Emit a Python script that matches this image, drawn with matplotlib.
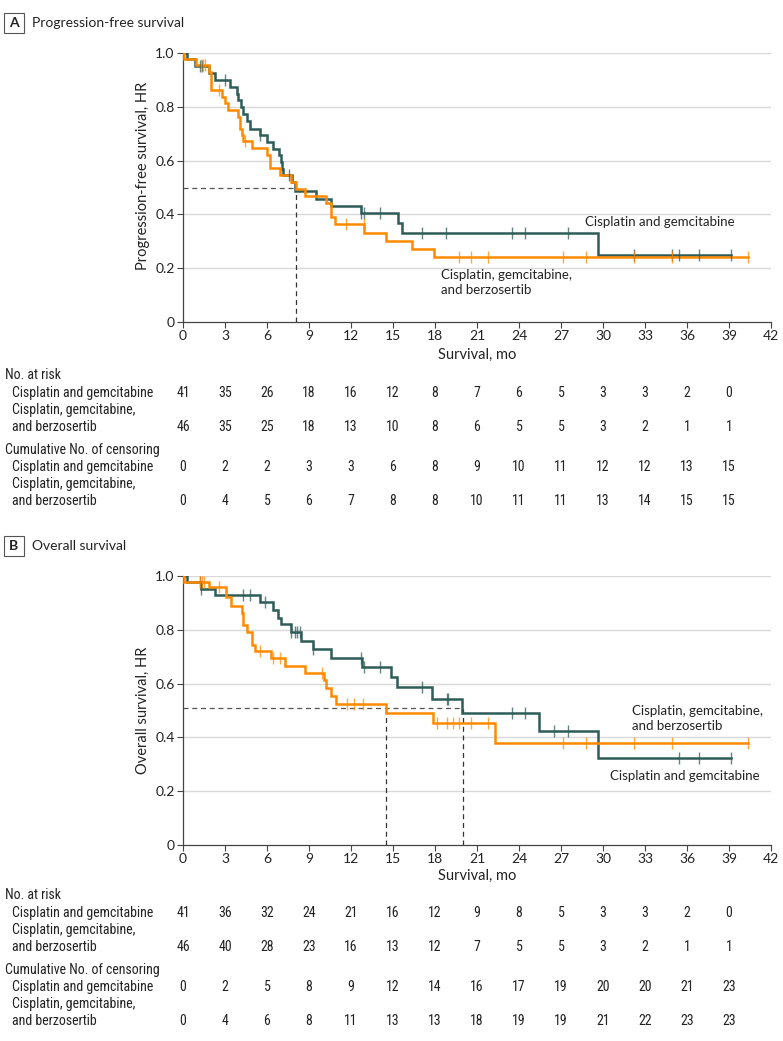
import numpy as np
import matplotlib
matplotlib.use("Agg")
import matplotlib.pyplot as plt
import matplotlib.font_manager as fm
from matplotlib import transforms
from matplotlib.patches import Rectangle

# ---------------- data ----------------
months_ticks = list(range(0, 43, 3))
risk_months = list(range(0, 40, 3))

# Panel A: progression-free survival
pfs_cg_times = [0.29, 0.84, 1.87, 2.28, 3.36, 3.84, 3.96, 4.15, 4.27, 4.56, 4.8, 5.52, 6.0, 6.43, 6.84,
                7.03, 7.08, 7.12, 7.8, 7.97, 9.53, 10.56, 12.72, 15.36, 15.67, 29.64]
pfs_cg_surv = [0.976, 0.952, 0.927, 0.898, 0.874, 0.849, 0.824, 0.799, 0.772, 0.746, 0.719, 0.694, 0.669,
               0.644, 0.62, 0.595, 0.57, 0.545, 0.52, 0.486, 0.458, 0.431, 0.405, 0.368, 0.331, 0.248]
pfs_cg_end = 39.17
pfs_cg_cens = [1.2, 1.37, 3.0, 5.52, 7.56, 12.72, 12.9, 14.04, 17.04, 18.77, 23.47, 24.4, 27.48,
               32.2, 34.9, 35.45, 36.84, 39.17]

pfs_cgb_times = [0.05, 0.9, 1.87, 2.0, 2.8, 3.0, 3.24, 3.96, 4.08, 4.2, 4.32, 4.92, 6.0, 6.19, 6.96, 7.68,
                 8.04, 8.69, 10.2, 10.56, 10.85, 12.96, 14.52, 16.37, 17.93]
pfs_cgb_surv = [0.976, 0.954, 0.93, 0.864, 0.836, 0.815, 0.789, 0.762, 0.719, 0.694, 0.672, 0.647, 0.62,
                0.572, 0.548, 0.52, 0.496, 0.468, 0.442, 0.39, 0.366, 0.331, 0.301, 0.273, 0.242]
pfs_cgb_end = 40.39
pfs_cgb_cens = [1.3, 1.45, 1.55, 2.6, 4.44, 11.64, 12.9, 19.68, 20.54, 21.79, 27.17, 28.75, 32.2, 34.9, 40.39]

pfs_median_y = 0.5
pfs_median_x = [8.06]

# Panel B: overall survival
os_cg_times = [0.29, 1.32, 2.28, 5.52, 6.43, 6.77, 7.03, 7.68, 8.45, 9.31, 10.6, 12.8, 14.88, 15.31,
               17.82, 19.9, 25.44, 29.64]
os_cg_surv = [0.979, 0.952, 0.929, 0.902, 0.874, 0.845, 0.82, 0.793, 0.76, 0.729, 0.696, 0.66, 0.626,
              0.589, 0.543, 0.490, 0.424, 0.322]
os_cg_end = 39.17
os_cg_cens = [1.2, 1.32, 4.27, 4.8, 5.88, 7.68, 7.97, 8.16, 8.35, 9.31, 12.72, 12.9, 14.09, 17.1,
              18.84, 18.95, 23.47, 24.4, 26.52, 27.48, 35.45, 36.84, 39.17]

os_cgb_times = [0.05, 1.87, 3.07, 3.4, 4.2, 4.32, 4.56, 4.92, 5.16, 6.31, 7.32, 8.69, 10.08, 10.2,
                10.6, 10.92, 14.52, 17.88, 22.32]
os_cgb_surv = [0.979, 0.958, 0.923, 0.888, 0.864, 0.818, 0.793, 0.744, 0.721, 0.694, 0.667, 0.64,
               0.613, 0.585, 0.555, 0.524, 0.489, 0.452, 0.380]
os_cgb_end = 40.39
os_cgb_cens = [1.2, 1.37, 1.49, 2.6, 5.47, 6.43, 6.96, 9.96, 11.69, 12.24, 12.89, 18.12, 18.89, 19.32,
               19.68, 20.57, 21.79, 27.17, 28.75, 32.2, 34.9, 40.39]

os_median_y = 0.51
os_median_x = [14.52, 19.97]

# tables
pfs_risk_cg = [41, 35, 26, 18, 16, 12, 8, 7, 6, 5, 3, 3, 2, 0]
pfs_risk_cgb = [46, 35, 25, 18, 13, 10, 8, 6, 5, 5, 3, 2, 1, 1]
pfs_cens_cg = [0, 2, 2, 3, 3, 6, 8, 9, 10, 11, 12, 12, 13, 15]
pfs_cens_cgb = [0, 4, 5, 6, 7, 8, 8, 10, 11, 11, 13, 14, 15, 15]

os_risk_cg = [41, 36, 32, 24, 21, 16, 12, 9, 8, 5, 3, 3, 2, 0]
os_risk_cgb = [46, 40, 28, 23, 16, 13, 12, 7, 5, 5, 3, 2, 1, 1]
os_cens_cg = [0, 2, 5, 8, 9, 12, 14, 16, 17, 19, 20, 20, 21, 23]
os_cens_cgb = [0, 4, 6, 8, 11, 13, 13, 18, 19, 19, 21, 22, 23, 23]

label_cg = "Cisplatin and gemcitabine"
label_cgb = "Cisplatin, gemcitabine,\nand berzosertib"

# ---------------- style ----------------
GREEN = "#2e5c58"
ORANGE = "#ff8a00"
TXT = "#222222"
AX = "#444444"

available = {f.name for f in fm.fontManager.ttflist}
MAIN = ["Lato", "DejaVu Sans"] if "Lato" in available else ["DejaVu Sans"]
NARROW = None
for cand in ["Liberation Sans Narrow", "DejaVu Sans Condensed", "Roboto Condensed"]:
    if cand in available:
        NARROW = [cand, "DejaVu Sans"]
        break
if NARROW is None:
    NARROW = ["Roboto", "DejaVu Sans"] if "Roboto" in available else ["DejaVu Sans"]

plt.rcParams['font.family'] = MAIN

W, H = 783, 1041
fig = plt.figure(figsize=(W / 100, H / 100), dpi=100)
fig.patch.set_facecolor("white")


def fx(x):
    return x / W


def fy(y):
    return 1 - y / H


def step_level(times, surv, t):
    idx = np.searchsorted(np.asarray(times), t, side="right")
    return 1.0 if idx == 0 else surv[idx - 1]


def draw_curve(ax, times, surv, end, cens, color):
    xs = [0.0] + list(times) + [end]
    ys = [1.0] + list(surv) + [surv[-1]]
    ax.step(xs, ys, where="post", color=color, lw=1.8, zorder=3, solid_joinstyle="miter")
    cy = [step_level(times, surv, c) for c in cens]
    ax.plot(cens, cy, ls="none", marker="|", ms=8, mew=1.0, color=color, alpha=0.75, zorder=4)


def make_panel(letter, title, top, bottom, ylabel, ylab_y, curves, med_y, med_x, texts, tbl_y, tables):
    # header
    box_top = top - 40
    fig.patches.append(Rectangle((fx(4), fy(box_top + 20)), fx(20), 20 / H, transform=fig.transFigure,
                                 fill=False, edgecolor="#555555", lw=0.8))
    fig.text(fx(14), fy(box_top + 10), letter, ha="center", va="center", fontsize=10, fontweight="bold",
             color=TXT, family=MAIN)
    fig.text(fx(32), fy(box_top + 10), title, ha="left", va="center", fontsize=10, color=TXT, family=MAIN)

    ax = fig.add_axes([fx(183), fy(bottom), (771 - 183) / W, (bottom - top) / H])
    ax.set_xlim(0, 42)
    ax.set_ylim(0, 1.0)
    ax.set_xticks(months_ticks)
    ax.set_xticklabels([str(m) for m in months_ticks])
    ax.set_yticks([0, 0.2, 0.4, 0.6, 0.8, 1.0])
    ax.set_yticklabels(["0", "0.2", "0.4", "0.6", "0.8", "1.0"])
    for s in ["top", "right"]:
        ax.spines[s].set_visible(False)
    for s in ["left", "bottom"]:
        ax.spines[s].set_color(AX)
        ax.spines[s].set_linewidth(0.9)
    ax.tick_params(axis="both", direction="out", length=4, width=0.8, color=AX, labelcolor=TXT,
                   labelsize=10, pad=2)
    for lbl in ax.get_xticklabels() + ax.get_yticklabels():
        lbl.set_family(MAIN)
    for gy in [0.2, 0.4, 0.6, 0.8, 1.0]:
        ax.axhline(gy, color="#d9d9d9", lw=1.0, zorder=0)

    # median lines
    ax.plot([0, max(med_x)], [med_y, med_y], color="#555555", lw=0.9, ls=(0, (4, 3)), zorder=2)
    for mx in med_x:
        ax.plot([mx, mx], [0, med_y], color="#333333", lw=0.9, ls=(0, (4, 3)), zorder=2)

    for (times, surv, end, cens, color) in curves:
        draw_curve(ax, times, surv, end, cens, color)
    for (tx, ty, s) in texts:
        ax.text(tx, ty, s, ha="left", va="center", fontsize=9.5, color=TXT, family=MAIN, linespacing=1.3)

    ax.set_ylabel(ylabel, fontsize=10.5, color=TXT, family=MAIN)
    ax.yaxis.set_label_coords(-0.056, ylab_y)

    # xlabel
    fig.text(fx(477), fy(tbl_y[0]), "Survival, mo", ha="center", va="center", fontsize=10.5, color=TXT,
             family=MAIN)

    # table
    tr = transforms.blended_transform_factory(ax.transData, fig.transFigure)
    y_nr, y1, y2a, y2b, y_cc, y3, y4a, y4b = tbl_y[1:]
    kw = dict(fontsize=10, color=TXT, family=NARROW, va="center")
    fig.text(fx(5), fy(y_nr), "No. at risk", ha="left", **kw)
    fig.text(fx(12), fy(y1), "Cisplatin and gemcitabine", ha="left", **kw)
    fig.text(fx(12), fy(y2a), "Cisplatin, gemcitabine,", ha="left", **kw)
    fig.text(fx(12), fy(y2b), "and berzosertib", ha="left", **kw)
    fig.text(fx(5), fy(y_cc), "Cumulative No. of censoring", ha="left", **kw)
    fig.text(fx(12), fy(y3), "Cisplatin and gemcitabine", ha="left", **kw)
    fig.text(fx(12), fy(y4a), "Cisplatin, gemcitabine,", ha="left", **kw)
    fig.text(fx(12), fy(y4b), "and berzosertib", ha="left", **kw)
    rows = [(tables[0], y1), (tables[1], y2b), (tables[2], y3), (tables[3], y4b)]
    for vals, yy in rows:
        for m, v in zip(risk_months, vals):
            fig.text(m, fy(yy), str(v), ha="center", transform=tr, **kw)
    return ax


make_panel("A", "Progression-free survival", 53, 322, "Progression-free survival, HR", 0.543,
           [(pfs_cg_times, pfs_cg_surv, pfs_cg_end, pfs_cg_cens, GREEN),
            (pfs_cgb_times, pfs_cgb_surv, pfs_cgb_end, pfs_cgb_cens, ORANGE)],
           pfs_median_y, pfs_median_x,
           [(28.7, 0.372, label_cg), (18.4, 0.146, label_cgb)],
           [355, 375, 393, 410, 427, 450, 467, 484, 501],
           [pfs_risk_cg, pfs_risk_cgb, pfs_cens_cg, pfs_cens_cgb])

make_panel("B", "Overall survival", 576, 845, "Overall survival, HR", 0.5,
           [(os_cg_times, os_cg_surv, os_cg_end, os_cg_cens, GREEN),
            (os_cgb_times, os_cgb_surv, os_cgb_end, os_cgb_cens, ORANGE)],
           os_median_y, os_median_x,
           [(32.1, 0.471, label_cgb), (30.5, 0.256, label_cg)],
           [876, 895, 913, 930, 947, 970, 987, 1004, 1021],
           [os_risk_cg, os_risk_cgb, os_cens_cg, os_cens_cgb])

fig.savefig("out.png", dpi=100)
